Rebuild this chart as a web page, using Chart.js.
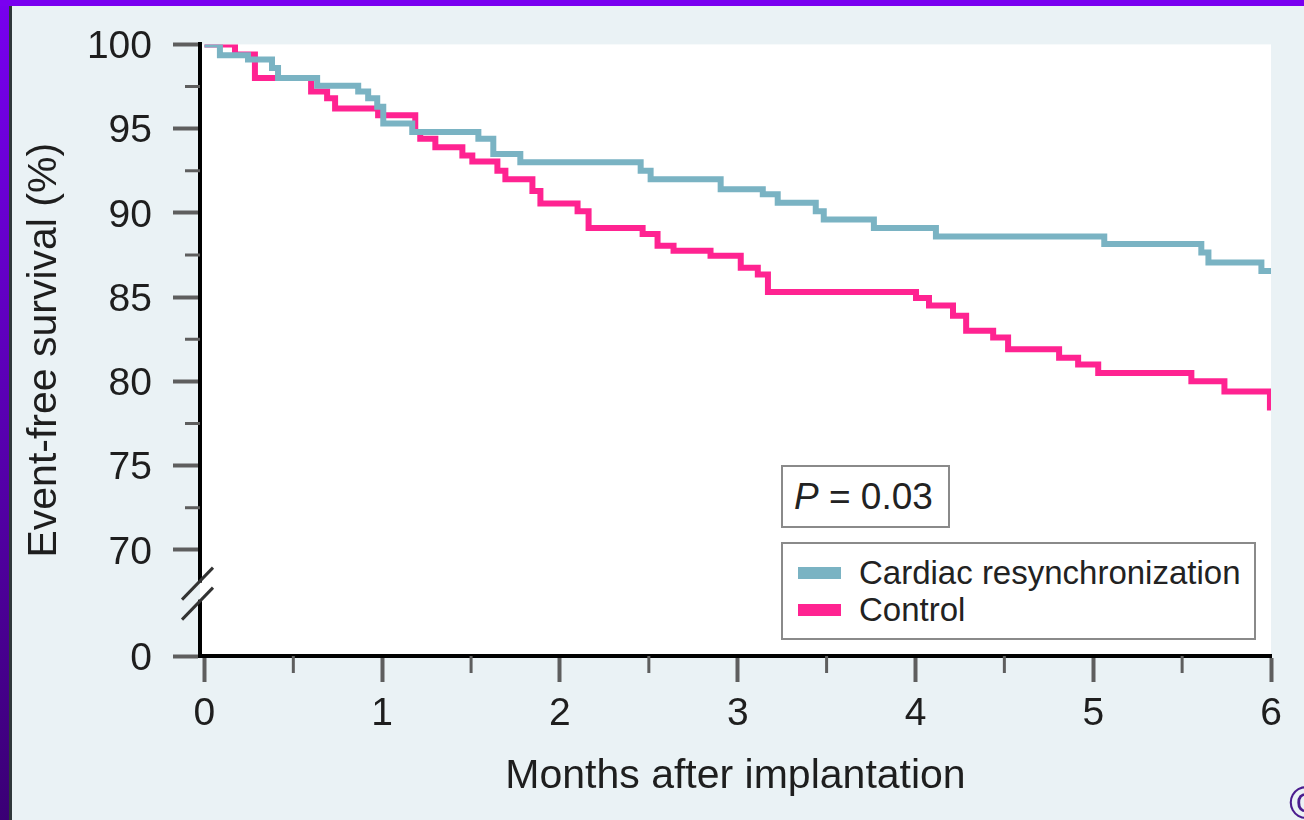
<!DOCTYPE html>
<html>
<head>
<meta charset="utf-8">
<script src="https://cdn.jsdelivr.net/npm/chart.js@4.4.1/dist/chart.umd.min.js"></script>
<style>
  html, body { margin: 0; padding: 0; }
  body {
    width: 1304px; height: 820px; overflow: hidden; position: relative;
    background: #eaf2f5; color: #222;
    font-family: 'Liberation Sans', Arial, sans-serif;
  }
  #wrap { position: absolute; left: 0; top: 0; width: 1304px; height: 820px; }
  #leftbar {
    position: absolute; left: 0; top: 0; width: 9px; height: 820px;
    background: linear-gradient(#7800f0, #3a0075);
    border-right: 3px solid #2f383a;
  }
  #topbar { position: absolute; left: 0; top: 0; width: 1304px; height: 6px; background: #7a00f0; }
  .box { position: absolute; background: #fff; border: 2px solid #8a8a8a; box-sizing: border-box; }
  #pbox { left: 781px; top: 465px; width: 169px; height: 63px; font-size: 37px; line-height: 59px; padding-left: 11px; }
  #legend { left: 781px; top: 542px; width: 475px; height: 98px; padding-top: 10px; }
  .row { display: flex; align-items: center; height: 37px; font-size: 33px; }
  .sw { width: 43px; height: 12px; margin-left: 15px; margin-right: 18px; }
  #logo { position: absolute; left: 1289px; top: 776px; font-size: 46px; color: #4b1d8e; }
</style>
</head>
<body>
<div id="wrap"><canvas id="km" width="1304" height="820"></canvas></div>
<div id="leftbar"></div>
<div id="topbar"></div>
<div id="pbox" class="box"><i>P</i> = 0.03</div>
<div id="legend" class="box"></div>
<div id="logo">©</div>
<script>
const xTickValues = [0, 1, 2, 3, 4, 5, 6];
const xMinorTicks = [0.5, 1.5, 2.5, 3.5, 4.5, 5.5];
const yTickValues = [63.7, 70, 75, 80, 85, 90, 95, 100];
const yTickLabels = ['0', '70', '75', '80', '85', '90', '95', '100'];
const yMinorTicks = [72.5, 77.5, 82.5, 87.5, 92.5, 97.5];
const yBreakAt = 67.4;

const seriesLabels = ['Cardiac resynchronization', 'Control'];
const seriesColors = ['#7ab3c3', '#ff2391'];

// Kaplan-Meier steps: month of each drop and the survival after it
const crtMonths = [0, 0.087, 0.245, 0.38, 0.414, 0.634, 0.865, 0.921, 0.972, 1.006, 1.169,
  1.541, 1.625, 1.777, 2.454, 2.51, 2.904, 3.141, 3.225, 3.439, 3.484, 3.766, 4.115,
  5.062, 5.608, 5.648, 5.946, 6];
const crtSurvival = [100, 99.35, 99.1, 98.6, 98.0, 97.55, 97.2, 96.8, 96.3, 95.3, 94.8,
  94.4, 93.5, 93.0, 92.5, 92.0, 91.4, 91.1, 90.6, 90.1, 89.6, 89.1, 88.6,
  88.15, 87.65, 87.05, 86.55, 86.55];

const ctrlMonths = [0, 0.172, 0.284, 0.6, 0.69, 0.735, 0.977, 1.186, 1.214, 1.299, 1.451,
  1.507, 1.648, 1.693, 1.845, 1.89, 2.099, 2.161, 2.465, 2.549, 2.639, 2.847, 3.017,
  3.113, 3.17, 4.003, 4.076, 4.211, 4.285, 4.437, 4.521, 4.808, 4.915, 5.028, 5.552,
  5.738, 5.994, 6];
const ctrlSurvival = [100, 99.4, 98.0, 97.2, 96.8, 96.2, 95.8, 94.8, 94.4, 93.9, 93.4,
  93.05, 92.5, 92.0, 91.3, 90.55, 90.1, 89.1, 88.75, 88.05, 87.75, 87.45, 86.75,
  86.35, 85.3, 84.95, 84.5, 83.9, 83.0, 82.6, 81.9, 81.4, 81.0, 80.5, 80.0,
  79.4, 78.45, 78.45];

const toPoints = (xs, ys) => xs.map((x, i) => ({ x: x, y: ys[i] }));

const font = "'Liberation Sans', Arial, sans-serif";
const textColor = '#1e1e1e';
const tickColor = '#5e5e5e';

// white plot area, short minor ticks and the axis break
const decor = {
  id: 'decor',
  beforeDraw(chart) {
    const { ctx, chartArea: a } = chart;
    ctx.save();
    ctx.fillStyle = '#fff';
    ctx.fillRect(a.left, a.top, a.right - a.left, a.bottom - a.top);
    ctx.restore();
  },
  afterDraw(chart) {
    const { ctx, chartArea: a, scales: { x, y } } = chart;
    ctx.save();
    ctx.strokeStyle = tickColor;
    ctx.lineWidth = 3;
    xMinorTicks.forEach(v => {
      const px = x.getPixelForValue(v);
      ctx.beginPath(); ctx.moveTo(px, a.bottom); ctx.lineTo(px, a.bottom + 17); ctx.stroke();
    });
    yMinorTicks.forEach(v => {
      const py = y.getPixelForValue(v);
      ctx.beginPath(); ctx.moveTo(a.left, py); ctx.lineTo(a.left - 15, py); ctx.stroke();
    });

    const cy = y.getPixelForValue(yBreakAt);
    ctx.fillStyle = '#eaf2f5';
    ctx.fillRect(a.left - 3, cy - 11, 3, 17);
    ctx.fillStyle = '#fff';
    ctx.fillRect(a.left, cy - 11, 3, 17);
    ctx.strokeStyle = '#333';
    ctx.lineWidth = 3;
    [-10, 10].forEach(d => {
      ctx.beginPath();
      ctx.moveTo(a.left - 18, cy + d + 16);
      ctx.lineTo(a.left + 13, cy + d - 16);
      ctx.stroke();
    });
    ctx.restore();
  }
};

const chart = new Chart(document.getElementById('km'), {
  type: 'line',
  data: {
    datasets: [
      {
        label: seriesLabels[0],
        data: toPoints(crtMonths, crtSurvival),
        borderColor: seriesColors[0],
        borderWidth: 6,
        stepped: true,
        pointRadius: 0,
        fill: false
      },
      {
        label: seriesLabels[1],
        data: toPoints(ctrlMonths, ctrlSurvival),
        borderColor: seriesColors[1],
        borderWidth: 6,
        stepped: true,
        pointRadius: 0,
        fill: false
      }
    ]
  },
  options: {
    responsive: false,
    animation: false,
    devicePixelRatio: 1,
    layout: { padding: { left: 0, top: 43, right: 33, bottom: 0 } },
    plugins: { legend: { display: false }, tooltip: { enabled: false } },
    scales: {
      x: {
        type: 'linear',
        min: -0.025,
        max: 6,
        afterBuildTicks: s => { s.ticks = xTickValues.map(v => ({ value: v })); },
        afterFit: s => { s.height = 164; },
        ticks: {
          autoSkip: false, maxRotation: 0, padding: 9, color: textColor,
          font: { family: font, size: 39, lineHeight: 1.2 }
        },
        grid: { drawOnChartArea: false, tickLength: 26, tickWidth: 4, tickColor: tickColor },
        border: { color: '#000', width: 4 },
        title: {
          display: true, text: 'Months after implantation', color: textColor,
          font: { family: font, size: 41, lineHeight: 1.2 },
          padding: { top: 0, bottom: 19 }
        }
      },
      y: {
        type: 'linear',
        min: 63.7,
        max: 100,
        afterBuildTicks: s => { s.ticks = yTickValues.map(v => ({ value: v })); },
        afterFit: s => { s.width = 200; },
        ticks: {
          autoSkip: false, padding: 21, labelOffset: 3, color: textColor,
          font: { family: font, size: 39, lineHeight: 1.2 },
          callback: (value, index) => yTickLabels[index]
        },
        grid: { drawOnChartArea: false, tickLength: 27, tickWidth: 4, tickColor: tickColor },
        border: { color: '#000', width: 4 },
        title: {
          display: true, text: 'Event-free survival (%)', color: textColor,
          font: { family: font, size: 41, lineHeight: 1.2 },
          padding: { top: 20, bottom: 0 }
        }
      }
    }
  },
  plugins: [decor]
});

// legend box built from the datasets
const legend = document.getElementById('legend');
chart.data.datasets.forEach(ds => {
  const row = document.createElement('div');
  row.className = 'row';
  const sw = document.createElement('span');
  sw.className = 'sw';
  sw.style.background = ds.borderColor;
  const label = document.createElement('span');
  label.textContent = ds.label;
  row.appendChild(sw);
  row.appendChild(label);
  legend.appendChild(row);
});
</script>
</body>
</html>
